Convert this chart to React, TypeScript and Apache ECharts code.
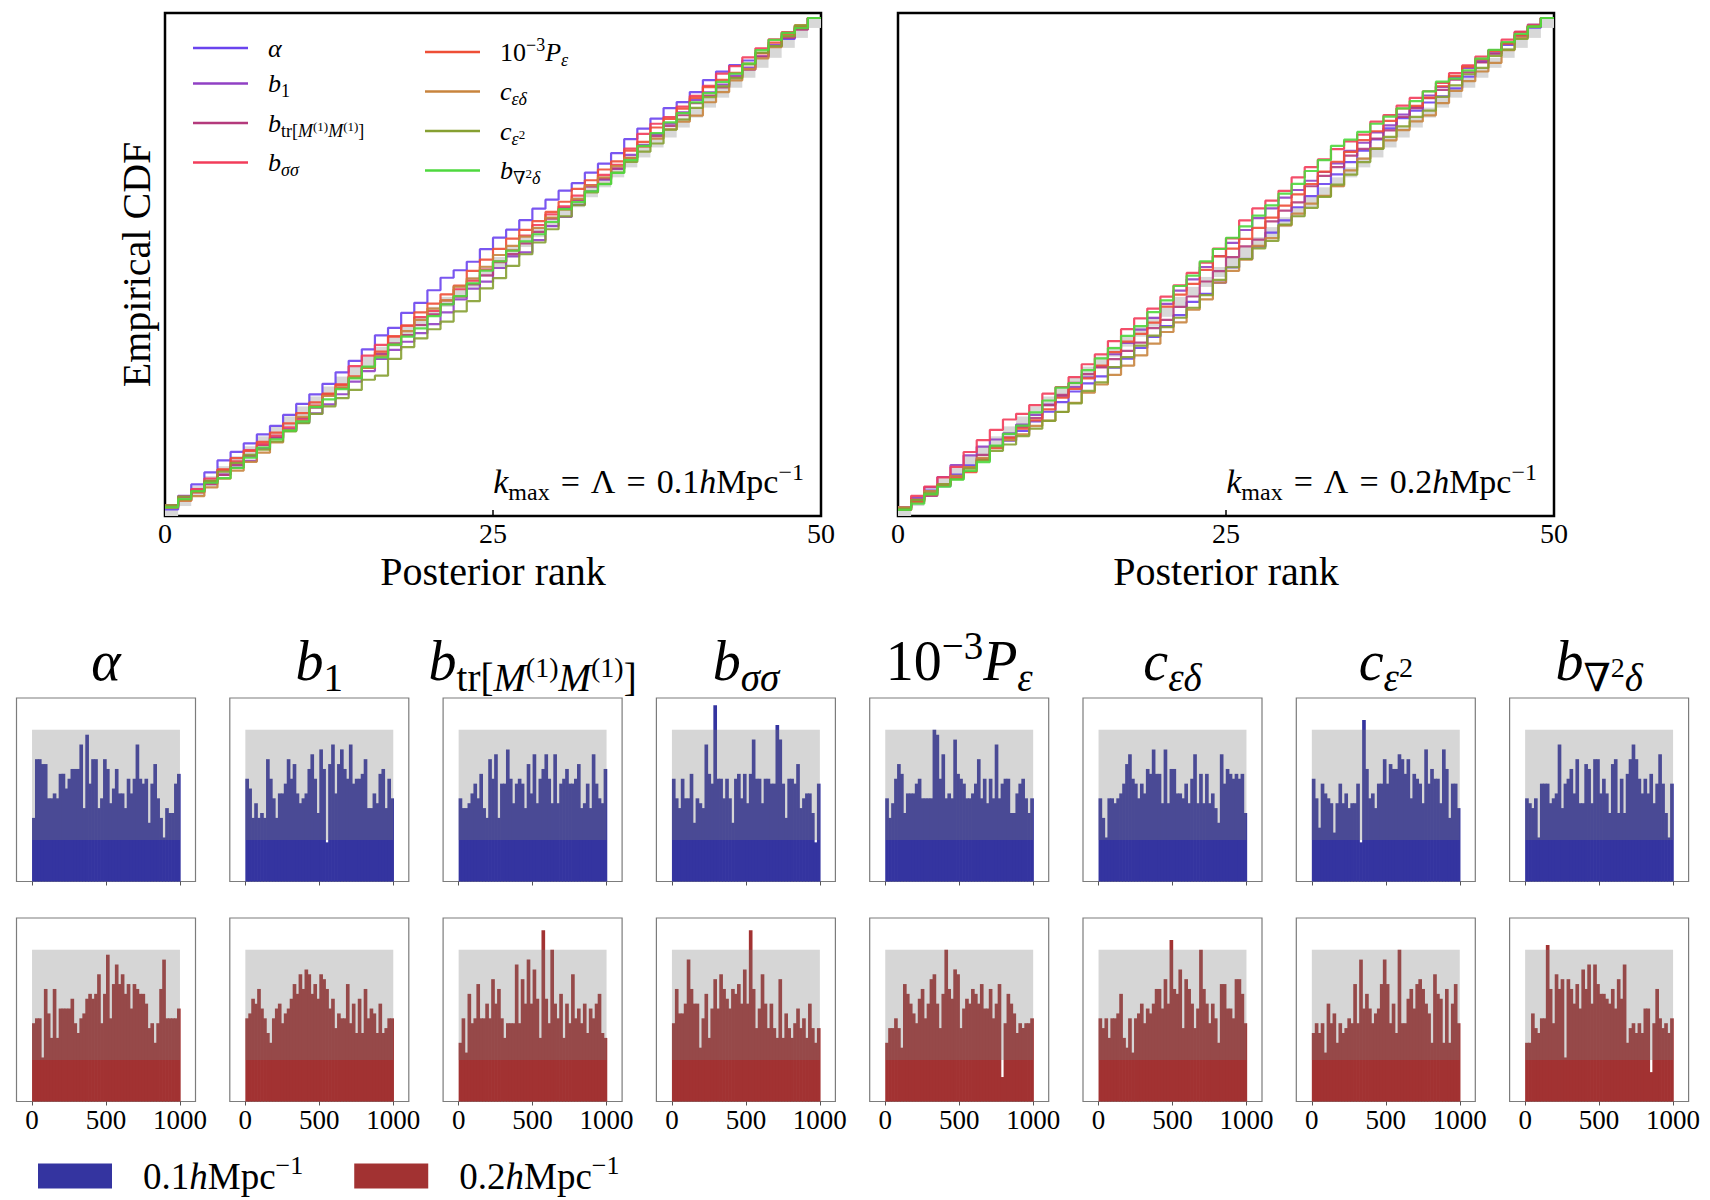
import React, { useEffect, useRef } from 'react';
import * as echarts from 'echarts';

const SERIF = "'Liberation Serif', 'Times New Roman', 'DejaVu Serif', serif";

// ---- parameters (shared by CDF panels and histogram columns) ----
const PARAM_IDS = ['alpha', 'b1', 'btr', 'bss', 'Pe', 'ced', 'ce2', 'bnab'];
const PARAM_LABELS = [
  '{i|α}',
  '{i|b}{sr|1}',
  '{i|b}{sr|tr[}{si|M}{ss|(1)}{si|M}{ss|(1)}{sr|]}',
  '{i|b}{si|σσ}',
  '{r|10}{sp|−3}{i|P}{si|ε}',
  '{i|c}{si|εδ}',
  '{i|c}{si|ε}{ss|2}',
  '{i|b}{sr|∇}{ss|2}{si|δ}',
];
const LINE_COLORS = ['#6a44ee', '#9040c4', '#b43a7c', '#f23c5a', '#ee4e36', '#c8843e', '#86a032', '#4ed83e'];

// ---- expected uniform CDF steps (grey boxes) ----
const UNIFORM_CDF = [
  0.02, 0.04, 0.06, 0.08, 0.1, 0.12, 0.14, 0.16, 0.18, 0.2,
  0.22, 0.24, 0.26, 0.28, 0.3, 0.32, 0.34, 0.36, 0.38, 0.4,
  0.42, 0.44, 0.46, 0.48, 0.5, 0.52, 0.54, 0.56, 0.58, 0.6,
  0.62, 0.64, 0.66, 0.68, 0.7, 0.72, 0.74, 0.76, 0.78, 0.8,
  0.82, 0.84, 0.86, 0.88, 0.9, 0.92, 0.94, 0.96, 0.98, 1.0,
];

// ---- histogram settings ----
const HIST_RANGE = [0, 1000];
const HIST_TICKS = [0, 500, 1000];
const HIST_BAND = [8.5, 31];

// ---- rank histograms, k = 0.1 h/Mpc ----
const H01_ALPHA = [13,25,25,24,24,17,17,18,17,22,22,19,21,23,23,23,28,15,30,20,25,25,15,17,25,23,16,19,23,18,18,15,21,18,21,28,21,20,21,12,20,24,17,13,9,15,14,14,20,22];
const H01_B1 = [21,19,13,16,13,14,13,25,21,17,13,18,18,20,25,21,24,18,16,17,18,23,26,21,14,27,23,8,24,28,18,24,27,23,21,28,20,21,21,22,25,15,15,18,16,22,23,15,21,17];
const H01_BTR = [17,15,15,16,18,20,17,22,15,13,25,21,26,13,20,20,27,21,16,20,21,20,15,24,18,26,16,21,23,26,21,16,26,16,20,21,23,20,20,21,24,15,16,20,15,26,20,17,16,23];
const H01_BSS = [21,17,15,21,17,17,22,12,17,16,15,28,22,20,36,21,21,17,21,17,12,21,22,17,22,16,22,29,21,21,16,21,21,20,20,32,29,20,13,21,21,20,24,15,17,18,18,14,8,20];
const H01_PE = [17,13,16,21,24,22,14,18,18,18,20,21,17,17,17,17,31,30,21,26,17,18,17,29,22,21,20,17,17,18,20,25,17,21,16,21,17,28,17,20,21,21,14,14,18,20,21,17,14,17];
const H01_CED = [17,13,9,17,17,16,17,18,20,24,26,21,20,17,20,18,23,22,27,22,22,16,27,16,23,23,18,18,17,20,16,21,26,16,22,16,22,16,18,15,12,26,20,23,22,21,22,21,22,14];
const H01_CE2 = [21,17,11,20,18,17,16,10,16,20,16,18,15,16,16,20,8,33,23,17,18,15,20,20,25,20,24,23,23,26,25,22,25,17,22,21,20,16,27,20,23,21,21,16,27,23,13,20,20,15];
const H01_BNAB = [17,16,15,17,9,20,20,20,16,17,18,28,15,20,21,23,18,25,16,16,24,23,16,25,25,18,21,18,14,24,25,14,21,14,22,25,28,25,21,18,21,18,22,16,20,26,20,14,9,20];

// ---- rank histograms, k = 0.2 h/Mpc ----
const H02_ALPHA = [16,17,17,9,23,18,13,23,13,19,19,19,19,21,16,14,17,18,21,22,21,22,26,16,22,30,17,24,28,24,26,22,24,19,24,23,22,22,20,15,16,12,16,23,29,17,17,17,17,19];
const H02_B1 = [17,18,21,20,23,19,17,14,12,17,19,20,16,18,19,21,24,22,26,23,27,26,22,24,21,26,25,23,19,21,15,18,17,17,24,16,20,14,21,14,23,17,19,18,14,20,14,15,17,17];
const H02_BTR = [12,17,10,22,16,17,24,17,17,20,17,25,20,23,17,13,16,16,16,28,16,25,20,29,20,27,21,13,35,21,16,31,20,17,22,13,20,16,26,17,19,16,20,14,19,17,20,22,14,13];
const H02_BSS = [16,23,18,18,20,29,23,20,20,11,17,22,13,19,25,19,26,23,21,19,23,22,24,20,27,20,35,23,15,19,26,20,15,20,15,13,25,13,18,15,13,16,19,15,17,13,20,15,12,15];
const H02_PE = [12,15,15,17,15,11,24,22,20,18,16,21,23,17,20,25,26,20,15,22,31,23,21,27,26,15,19,21,20,23,22,20,24,19,19,23,17,20,24,5,16,22,20,18,14,16,15,16,16,17];
const H02_CED = [17,15,17,13,17,17,18,22,13,11,17,10,17,18,20,16,19,18,20,23,23,19,25,20,33,23,22,27,15,25,23,20,15,19,31,23,20,16,20,17,12,24,24,19,19,17,25,25,22,16];
const H02_CE2 = [14,16,14,16,10,20,16,18,12,16,14,15,17,16,24,16,29,19,22,19,16,18,19,24,29,24,16,20,14,31,16,16,21,23,19,24,25,23,20,18,12,26,22,21,12,23,12,20,24,16];
const H02_BNAB = [12,12,18,15,14,17,17,32,23,16,26,23,25,9,25,23,20,24,19,27,23,28,20,28,24,22,22,21,20,23,19,25,21,28,12,15,16,14,16,14,19,19,6,16,23,17,15,16,14,17];

const HIST_01 = [H01_ALPHA, H01_B1, H01_BTR, H01_BSS, H01_PE, H01_CED, H01_CE2, H01_BNAB];
const HIST_02 = [H02_ALPHA, H02_B1, H02_BTR, H02_BSS, H02_PE, H02_CED, H02_CE2, H02_BNAB];

const SCALE_NAMES = ['k01', 'k02'];
const SCALE_LABELS = ['{r|0.1}{i|h}{r|Mpc}{sp|−1}', '{r|0.2}{i|h}{r|Mpc}{sp|−1}'];
const HIST_COLORS = ['#3434a0', '#a23232'];
const KMAX_LABELS = [
  '{i|k}{sr|max}{g| }{r|=}{g| }{r|Λ}{g| }{r|=}{g| }{r|0.1}{i|h}{r|Mpc}{sp|−1}',
  '{i|k}{sr|max}{g| }{r|=}{g| }{r|Λ}{g| }{r|=}{g| }{r|0.2}{i|h}{r|Mpc}{sp|−1}',
];

// ---- helpers ----
function makeRich(fs: number) {
  const L = Math.round(fs * 1.3);
  const base = { fontFamily: SERIF, color: '#000', fill: '#000' };
  const sub = Math.round(fs * 0.7);
  const ss = Math.round(fs * 0.5);
  const hSub = L - 0.604 * fs;
  const hSp = L - 0.556 * fs;
  const hSs = L - 0.24 * fs;
  return {
    i: { ...base, fontSize: fs, fontStyle: 'italic', lineHeight: L, verticalAlign: 'middle' },
    r: { ...base, fontSize: fs, fontStyle: 'normal', lineHeight: L, verticalAlign: 'middle' },
    g: { ...base, fontSize: fs, width: Math.round(fs * 0.32), lineHeight: L, verticalAlign: 'middle' },
    si: { ...base, fontSize: sub, fontStyle: 'italic', height: hSub, lineHeight: hSub, verticalAlign: 'bottom' },
    sr: { ...base, fontSize: sub, fontStyle: 'normal', height: hSub, lineHeight: hSub, verticalAlign: 'bottom' },
    sp: { ...base, fontSize: sub, fontStyle: 'normal', height: hSp, lineHeight: hSp, verticalAlign: 'top' },
    ss: { ...base, fontSize: ss, fontStyle: 'normal', height: hSs, lineHeight: hSs, verticalAlign: 'bottom' },
  };
}

function cdfPoints(counts: number[]) {
  const total = counts.reduce((a, b) => a + b, 0);
  let run = 0;
  const pts: number[][] = counts.map((v, k) => {
    run += v;
    return [k, run / total];
  });
  pts.push([counts.length, 1]);
  return pts;
}

function histData(counts: number[]) {
  const w = (HIST_RANGE[1] - HIST_RANGE[0]) / counts.length;
  return counts.map((v, i) => [HIST_RANGE[0] + i * w, HIST_RANGE[0] + (i + 1) * w, 0, v]);
}

function rectRenderer(fill: string, overlap: number) {
  return (params: any, api: any) => {
    const a = api.coord([api.value(0), api.value(3)]);
    const b = api.coord([api.value(1), api.value(2)]);
    return {
      type: 'rect',
      shape: { x: a[0], y: a[1], width: b[0] - a[0] + overlap, height: b[1] - a[1] },
      style: { fill },
    };
  };
}

function buildOption() {
  const grid: any[] = [];
  const xAxis: any[] = [];
  const yAxis: any[] = [];
  const series: any[] = [];
  const textBase = { fontFamily: SERIF, color: '#000' };

  // ---- CDF panels ----
  const cdfLefts = [165, 898];
  const cdfSets = [HIST_01, HIST_02];
  cdfLefts.forEach((left, gi) => {
    grid.push({ left, top: 13, width: 656, height: 503, show: true, borderColor: '#000', borderWidth: 2.5, backgroundColor: 'transparent' });
    xAxis.push({
      gridIndex: gi, type: 'value', min: 0, max: 50, interval: 25,
      axisLine: { show: false },
      axisTick: { show: true, inside: true, length: 6, lineStyle: { color: '#000', width: 1.5 } },
      axisLabel: { margin: 3, fontSize: 28, ...textBase },
      splitLine: { show: false },
      name: 'Posterior rank', nameLocation: 'middle', nameGap: 35,
      nameTextStyle: { fontSize: 40, ...textBase },
    });
    yAxis.push({
      gridIndex: gi, type: 'value', min: 0, max: 1.01,
      axisLine: { show: false }, axisTick: { show: false }, axisLabel: { show: false }, splitLine: { show: false },
      name: gi === 0 ? 'Empirical CDF' : '', nameLocation: 'middle', nameGap: 9, nameRotate: 90,
      nameTextStyle: { fontSize: 40, ...textBase },
    });
    series.push({
      type: 'custom', name: 'uniform', xAxisIndex: gi, yAxisIndex: gi, silent: true,
      renderItem: rectRenderer('#d8d8d8', 0),
      encode: { x: [0, 1], y: [2, 3] },
      data: UNIFORM_CDF.map((top, k) => [k, k + 1, k === 0 ? 0 : UNIFORM_CDF[k - 1], top]),
      z: 1,
    });
    PARAM_IDS.forEach((id, pi) => {
      series.push({
        type: 'line', name: id, xAxisIndex: gi, yAxisIndex: gi, step: 'end', symbol: 'none', showSymbol: false, silent: true,
        data: cdfPoints(cdfSets[gi][pi]),
        lineStyle: { color: LINE_COLORS[pi], width: 2.2, opacity: 0.9 },
        itemStyle: { color: LINE_COLORS[pi] },
        emphasis: { disabled: true },
        z: 3,
      });
    });
  });

  // ---- histogram panels ----
  const histSets = [HIST_01, HIST_02];
  const rowTops = [698, 918];
  for (let r = 0; r < 2; r++) {
    for (let c = 0; c < 8; c++) {
      const gi = grid.length;
      grid.push({ left: 16.5 + c * 213.3, top: rowTops[r], width: 179, height: 183.5, show: true, borderColor: '#7c7c7c', borderWidth: 1.2, backgroundColor: 'transparent' });
      xAxis.push({
        gridIndex: gi, type: 'value', min: -105, max: 1105,
        axisLine: { show: false }, splitLine: { show: false },
        axisTick: { show: true, customValues: HIST_TICKS, length: 4, lineStyle: { color: '#555', width: 1 } },
        axisLabel: { show: r === 1, customValues: HIST_TICKS, margin: 5, fontSize: 27, formatter: (v: number) => String(v), ...textBase },
      });
      yAxis.push({ gridIndex: gi, type: 'value', min: 0, max: 37.5, show: false, splitLine: { show: false } });
      series.push({
        type: 'custom', name: SCALE_NAMES[r], xAxisIndex: gi, yAxisIndex: gi, silent: true,
        itemStyle: { color: HIST_COLORS[r] },
        renderItem: rectRenderer(HIST_COLORS[r], 0.7),
        encode: { x: [0, 1], y: [2, 3] },
        data: histData(histSets[r][c]),
        z: 2,
      });
      series.push({
        type: 'custom', name: 'band', xAxisIndex: gi, yAxisIndex: gi, silent: true,
        renderItem: rectRenderer('rgba(125,125,125,0.315)', 0),
        encode: { x: [0, 1], y: [2, 3] },
        data: [[HIST_RANGE[0], HIST_RANGE[1], HIST_BAND[0], HIST_BAND[1]]],
        z: 3,
      });
    }
  }

  const legendCommon = { selectedMode: false, orient: 'vertical', icon: 'rect', itemWidth: 55, itemHeight: 2.5, itemGap: 9.5 };
  const legend = [
    {
      ...legendCommon, data: PARAM_IDS.slice(0, 4), left: 188, top: 30,
      formatter: (n: string) => PARAM_LABELS[PARAM_IDS.indexOf(n)],
      textStyle: { padding: [0, 0, 0, 15], rich: makeRich(26) },
    },
    {
      ...legendCommon, data: PARAM_IDS.slice(4), left: 420, top: 30,
      formatter: (n: string) => PARAM_LABELS[PARAM_IDS.indexOf(n)],
      textStyle: { padding: [0, 0, 0, 15], rich: makeRich(26) },
    },
    {
      selectedMode: false, orient: 'horizontal', data: SCALE_NAMES, left: 33, top: 1147,
      icon: 'rect', itemWidth: 74, itemHeight: 25, itemGap: 51,
      formatter: (n: string) => SCALE_LABELS[SCALE_NAMES.indexOf(n)],
      textStyle: { padding: [0, 0, 0, 26], rich: makeRich(37) },
    },
  ];

  const graphic: any[] = [];
  PARAM_LABELS.forEach((lab, c) => {
    graphic.push({
      type: 'text', x: 16.5 + c * 213.3 + 89.5, y: 624.5, silent: true,
      style: { text: lab, rich: makeRich(56), align: 'center', verticalAlign: 'top' },
    });
  });
  KMAX_LABELS.forEach((lab, i) => {
    graphic.push({
      type: 'text', x: [804, 1537][i], y: 459.3, silent: true,
      style: { text: lab, rich: makeRich(34), align: 'right', verticalAlign: 'top' },
    });
  });

  return { animation: false, backgroundColor: '#fff', grid, xAxis, yAxis, series, legend, graphic };
}

export default function App() {
  const ref = useRef<HTMLDivElement>(null);
  useEffect(() => {
    const chart = echarts.init(ref.current!, null, { renderer: 'svg' });
    chart.setOption(buildOption() as any);
    return () => chart.dispose();
  }, []);
  return <div ref={ref} style={{ position: 'absolute', left: 0, top: 0, width: 1710, height: 1200, background: '#fff' }} />;
}
